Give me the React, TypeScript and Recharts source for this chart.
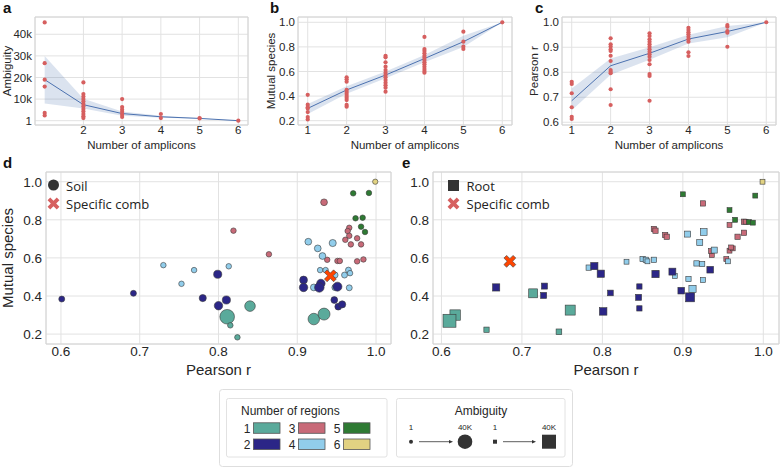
import React from "react";
import {
  ComposedChart,
  Scatter,
  Line,
  Area,
  XAxis,
  YAxis,
  ZAxis,
  CartesianGrid,
  ReferenceArea,
} from "recharts";

const FONT = "'Liberation Sans', Arial, sans-serif";
const LEGEND_FONT = "'Open Sans', sans-serif";
const TICK = { fontSize: 11.5, fill: "#262626", fontFamily: FONT };
const BIG_TICK = { fontSize: 13.5, fill: "#262626", fontFamily: FONT };
const GRID = "#e2e2e2";
const FRAME = "#d4d4d4";
const DOT = "#d65f5f";
const MEAN = "#4c72b0";

const REGION_COLORS = ["#5aaa9b", "#2b2687", "#c86a78", "#91cdeb", "#2e7a33", "#e1d282"];

const amplicons = [1, 2, 3, 4, 5, 6];

// a: ambiguity vs number of amplicons
const ambiguityPoints = [
  [45500, 26600, 19000, 15800, 3600, 2400],
  [17700, 12300, 11200, 10000, 8900, 7700, 6600, 5400, 4300, 3100, 2000, 1200],
  [10000, 6300, 5100, 4000, 2800, 1700],
  [3100, 1200],
  [1200, 1000],
  [1],
];
const ambiguityMean = [19000, 7400, 3300, 1800, 1050, 1];
const ambiguityLow = [7900, 5600, 2300, 1300, 950, 1];
const ambiguityHigh = [30000, 10200, 4300, 2300, 1150, 1];
const ambiguityTicks = [1, 10000, 20000, 30000, 40000];

// b: mutual species vs number of amplicons
const mutualPoints = [
  [0.41, 0.33, 0.31, 0.3, 0.27, 0.23, 0.21],
  [0.553, 0.537, 0.517, 0.45, 0.433, 0.417, 0.4, 0.385, 0.368, 0.328, 0.314],
  [0.728, 0.715, 0.675, 0.639, 0.612, 0.59, 0.571, 0.553, 0.531, 0.509, 0.488, 0.468, 0.436],
  [0.881, 0.783, 0.767, 0.748, 0.728, 0.712, 0.693, 0.675, 0.659, 0.639, 0.62, 0.604, 0.59],
  [0.924, 0.842, 0.802, 0.783],
  [1.0],
];
const mutualMean = [0.3, 0.45, 0.571, 0.705, 0.842, 1.0];
const mutualLow = [0.255, 0.42, 0.545, 0.675, 0.8, 1.0];
const mutualHigh = [0.335, 0.48, 0.6, 0.735, 0.89, 1.0];

// c: pearson r vs number of amplicons
const pearsonPoints = [
  [0.762, 0.753, 0.716, 0.66, 0.622, 0.613],
  [0.936, 0.912, 0.903, 0.892, 0.885, 0.866, 0.845, 0.809, 0.802, 0.796, 0.732, 0.669],
  [0.956, 0.945, 0.932, 0.922, 0.912, 0.902, 0.892, 0.882, 0.872, 0.862, 0.849, 0.832, 0.793, 0.785, 0.686],
  [0.978, 0.969, 0.96, 0.952, 0.942, 0.932, 0.922, 0.88, 0.865],
  [0.989, 0.982, 0.965, 0.958, 0.902],
  [1.0],
];
const pearsonMean = [0.686, 0.826, 0.876, 0.933, 0.963, 1.0];
const pearsonLow = [0.648, 0.79, 0.85, 0.915, 0.94, 1.0];
const pearsonHigh = [0.735, 0.855, 0.9, 0.95, 0.985, 1.0];

// d: soil, [pearson r, mutual species, ambiguity (k)] by number of regions
type Pt = [number, number, number];
const soil1: Pt[] = [[0.811, 0.291, 37], [0.815, 0.246, 1], [0.824, 0.183, 1], [0.84, 0.347, 17], [0.921, 0.279, 21], [0.934, 0.305, 23]];
const soil2: Pt[] = [[0.601, 0.384, 2], [0.692, 0.414, 2], [0.78, 0.389, 5], [0.799, 0.514, 8], [0.8, 0.349, 9], [0.81, 0.379, 8], [0.908, 0.484, 7], [0.908, 0.445, 9], [0.935, 0.31, 3], [0.93, 0.466, 9], [0.928, 0.445, 13], [0.951, 0.449, 11], [0.947, 0.379, 4], [0.952, 0.344, 4], [0.957, 0.356, 5]];
const soil3: Pt[] = [[0.819, 0.743, 1], [0.864, 0.619, 1], [0.934, 0.892, 4], [0.966, 0.758, 1], [0.964, 0.741, 1], [0.966, 0.716, 1], [0.961, 0.695, 1], [0.976, 0.703, 1], [0.968, 0.671, 1], [0.981, 0.671, 1], [0.938, 0.59, 1], [0.951, 0.584, 1], [0.954, 0.584, 1], [0.976, 0.582, 1], [0.984, 0.592, 1]];
const soil4: Pt[] = [[0.73, 0.562, 1], [0.753, 0.464, 1], [0.769, 0.536, 1], [0.813, 0.556, 1], [0.914, 0.685, 4], [0.926, 0.65, 4], [0.945, 0.678, 5], [0.932, 0.61, 4], [0.929, 0.536, 1], [0.936, 0.536, 1], [0.948, 0.51, 2], [0.96, 0.51, 2], [0.965, 0.536, 2], [0.967, 0.52, 1], [0.966, 0.443, 2], [0.921, 0.445, 4], [0.948, 0.445, 3]];
const soil5: Pt[] = [[0.971, 0.939, 1], [0.991, 0.941, 1], [0.974, 0.808, 1], [0.983, 0.811, 1], [0.981, 0.764, 1], [0.986, 0.736, 1]];
const soil6: Pt[] = [[0.999, 1.0, 0.5]];
const soilComb = [0.942, 0.506];

// e: root
const root1: Pt[] = [[0.617, 0.3, 22], [0.61, 0.27, 37], [0.656, 0.223, 2], [0.714, 0.414, 15], [0.746, 0.212, 3], [0.76, 0.326, 20]];
const root2: Pt[] = [[0.668, 0.445, 8], [0.728, 0.452, 4], [0.727, 0.403, 4], [0.79, 0.557, 8], [0.798, 0.517, 8], [0.801, 0.319, 9], [0.81, 0.416, 3], [0.845, 0.393, 4], [0.846, 0.45, 2], [0.846, 0.335, 2], [0.866, 0.515, 8], [0.887, 0.528, 7], [0.898, 0.428, 6], [0.909, 0.393, 15], [0.934, 0.538, 6]];
const root3: Pt[] = [[0.864, 0.752, 2], [0.866, 0.743, 2], [0.878, 0.72, 2], [0.88, 0.711, 2], [0.925, 0.886, 2], [0.958, 0.773, 1], [0.976, 0.79, 2], [0.978, 0.79, 1], [0.976, 0.732, 2], [0.968, 0.711, 2], [0.936, 0.615, 1], [0.935, 0.636, 1], [0.954, 0.594, 1], [0.958, 0.638, 1], [0.962, 0.65, 1], [0.96, 0.655, 1]];
const root4: Pt[] = [[0.783, 0.549, 2], [0.83, 0.58, 1], [0.85, 0.594, 2], [0.854, 0.59, 2], [0.856, 0.582, 1], [0.864, 0.59, 2], [0.867, 0.518, 2], [0.89, 0.505, 1], [0.907, 0.489, 2], [0.912, 0.437, 8], [0.906, 0.725, 4], [0.921, 0.68, 4], [0.926, 0.736, 6], [0.917, 0.571, 2], [0.924, 0.568, 2], [0.925, 0.484, 1], [0.939, 0.641, 4], [0.956, 0.582, 1]];
const root5: Pt[] = [[0.9, 0.934, 1], [0.99, 0.927, 1], [0.958, 0.851, 1], [0.965, 0.8, 1], [0.982, 0.788, 1], [0.987, 0.785, 1]];
const root6: Pt[] = [[0.999, 1.0, 1]];
const rootComb = [0.685, 0.582];

const scatterTicks = [0.6, 0.7, 0.8, 0.9, 1.0];
const mutualTicks = [0.2, 0.4, 0.6, 0.8, 1.0];
const pearsonTicks = [0.6, 0.7, 0.8, 0.9, 1.0];

const stripData = (pts: number[][]) => pts.flatMap((col, i) => col.map((y) => ({ x: amplicons[i], y })));
const meanData = (mean: number[], lo: number[], hi: number[]) =>
  amplicons.map((x, i) => ({ x, mean: mean[i], ci: [lo[i], hi[i]] }));
const toRows = (pts: Pt[]) => pts.map(([r, m, amb]) => ({ r, m, amb }));

const areaOf = (p: any) => (p.size != null ? p.size : Math.PI * Math.pow((p.width || 5) / 2, 2));

function Bubble(p: any) {
  const rad = Math.sqrt(areaOf(p) / Math.PI);
  return <circle cx={p.cx} cy={p.cy} r={rad} fill={p.color} stroke="#3a3a3a" strokeWidth={0.6} />;
}

function Box(p: any) {
  const s = Math.sqrt(areaOf(p));
  return <rect x={p.cx - s / 2} y={p.cy - s / 2} width={s} height={s} fill={p.color} stroke="#3a3a3a" strokeWidth={0.6} />;
}

function Cross({ cx, cy, color, stroke }: any) {
  const a = 6.5;
  const t = 1.9;
  const d = `M${-t},${-a}H${t}V${-t}H${a}V${t}H${t}V${a}H${-t}V${t}H${-a}V${-t}H${-t}Z`;
  return (
    <g transform={`translate(${cx},${cy}) rotate(45)`}>
      <path d={d} fill={color} stroke={stroke} strokeWidth={stroke ? 0.6 : 0} />
    </g>
  );
}

function AmpliconPanel({ left, yWidth, right, points, mean, lo, hi, yDomain, yTicks, xTicks, fmt }: any) {
  return (
    <div style={{ position: "absolute", left, top: 0 }}>
      <ComposedChart width={260} height={140} data={meanData(mean, lo, hi)} margin={{ top: 17, right, bottom: 0, left: 0 }}>
        <CartesianGrid stroke={GRID} />
        <XAxis type="number" dataKey="x" domain={[0.75, 6.25]} ticks={xTicks} interval={0} allowDataOverflow
          tickLine={false} axisLine={false} tickSize={0} tickMargin={1} height={15} tick={TICK} />
        <YAxis type="number" domain={yDomain} ticks={yTicks} interval={0} allowDataOverflow width={yWidth}
          tickLine={false} axisLine={false} tickSize={0} tickMargin={3} tick={TICK} tickFormatter={fmt} />
        <ReferenceArea x1={0.75} x2={6.25} y1={yDomain[0]} y2={yDomain[1]} fill="none" stroke={FRAME} ifOverflow="visible" />
        <Area type="linear" dataKey="ci" fill={MEAN} fillOpacity={0.2} stroke="none" isAnimationActive={false} />
        <Line type="linear" dataKey="mean" stroke={MEAN} strokeWidth={1} dot={false} isAnimationActive={false} />
        <Scatter data={stripData(points)} dataKey="y" isAnimationActive={false}
          shape={(p: any) => <circle cx={p.cx} cy={p.cy} r={2.1} fill={DOT} />} />
      </ComposedChart>
    </div>
  );
}

function RegionPanel({ left, width, yWidth, right, xDomain, groups, comb, square }: any) {
  const yDomain = [0.148, 1.051];
  const order = [2, 3, 1, 0, 4, 5];
  return (
    <div style={{ position: "absolute", left, top: 150 }}>
      <ComposedChart width={width} height={215} margin={{ top: 22, right, bottom: 0, left: 0 }}>
        <CartesianGrid stroke={GRID} />
        <XAxis type="number" dataKey="r" domain={xDomain} ticks={scatterTicks} interval={0} allowDataOverflow
          tickLine={false} axisLine={false} tickSize={0} tickMargin={2} height={21} tick={BIG_TICK}
          tickFormatter={(v: number) => v.toFixed(1)} />
        <YAxis type="number" dataKey="m" domain={yDomain} ticks={mutualTicks} interval={0} allowDataOverflow width={yWidth}
          tickLine={false} axisLine={false} tickSize={0} tickMargin={4} tick={BIG_TICK}
          tickFormatter={(v: number) => v.toFixed(1)} />
        <ZAxis type="number" dataKey="amb" domain={[0, 40]} range={[20, 180]} />
        <ReferenceArea x1={xDomain[0]} x2={xDomain[1]} y1={yDomain[0]} y2={yDomain[1]} fill="none" stroke={FRAME} ifOverflow="visible" />
        {order.map((g) => (
          <Scatter key={g} data={toRows(groups[g])} isAnimationActive={false}
            shape={(p: any) => (square ? <Box {...p} color={REGION_COLORS[g]} /> : <Bubble {...p} color={REGION_COLORS[g]} />)} />
        ))}
        <Scatter data={[{ r: comb[0], m: comb[1] }]} isAnimationActive={false}
          shape={(p: any) => <Cross cx={p.cx} cy={p.cy} color="#ff4500" stroke="#444" />} />
      </ComposedChart>
    </div>
  );
}

function Swatch({ x, y, label, color }: any) {
  return (
    <g>
      <text x={x - 3} y={y + 10} textAnchor="end" fontSize={12}>{label}</text>
      <rect x={x} y={y} width={26.5} height={10.5} fill={color} stroke="#555" strokeWidth={0.8} />
    </g>
  );
}

function Arrow({ x1, x2, y }: any) {
  return (
    <g>
      <line x1={x1} y1={y} x2={x2 - 3} y2={y} stroke="#333" strokeWidth={0.8} />
      <path d={`M${x2},${y}L${x2 - 4},${y - 1.8}L${x2 - 4},${y + 1.8}Z`} fill="#333" />
    </g>
  );
}

export default function App() {
  return (
    <div style={{ position: "absolute", left: 0, top: 0, width: 780, height: 467, background: "#fff", fontFamily: FONT }}>
      <AmpliconPanel left={0} yWidth={35} right={12} points={ambiguityPoints} mean={ambiguityMean} lo={ambiguityLow} hi={ambiguityHigh}
        yDomain={[-2000, 48000]} yTicks={ambiguityTicks} xTicks={[2, 3, 4, 5, 6]}
        fmt={(v: number) => (v < 10 ? String(v) : `${v / 1000}k`)} />
      <AmpliconPanel left={260} yWidth={38} right={8} points={mutualPoints} mean={mutualMean} lo={mutualLow} hi={mutualHigh}
        yDomain={[0.165, 1.043]} yTicks={mutualTicks} xTicks={amplicons} fmt={(v: number) => v.toFixed(1)} />
      <AmpliconPanel left={520} yWidth={42} right={4} points={pearsonPoints} mean={pearsonMean} lo={pearsonLow} hi={pearsonHigh}
        yDomain={[0.589, 1.021]} yTicks={pearsonTicks} xTicks={amplicons} fmt={(v: number) => v.toFixed(1)} />

      <RegionPanel left={0} width={395} yWidth={46} right={4} xDomain={[0.581, 1.019]}
        groups={[soil1, soil2, soil3, soil4, soil5, soil6]} comb={soilComb} />
      <RegionPanel left={395} width={385} yWidth={38} right={1} xDomain={[0.5895, 1.0195]}
        groups={[root1, root2, root3, root4, root5, root6]} comb={rootComb} square />

      <svg width={780} height={467} style={{ position: "absolute", left: 0, top: 0, pointerEvents: "none" }}>
        <g fontFamily={FONT} fontWeight="bold" fontSize={15} fill="#111">
          <text x={3} y={12.5}>a</text>
          <text x={270} y={12.5}>b</text>
          <text x={535} y={12.5}>c</text>
          <text x={3} y={168}>d</text>
          <text x={402} y={168}>e</text>
        </g>

        <g fontFamily={FONT} fontSize={11.5} fill="#262626" textAnchor="middle">
          <text transform="translate(11,71) rotate(-90)">Ambiguity</text>
          <text transform="translate(274.5,71) rotate(-90)">Mutual species</text>
          <text transform="translate(538,71) rotate(-90)">Pearson r</text>
          <text x={141.5} y={148.5}>Number of amplicons</text>
          <text x={405} y={148.5}>Number of amplicons</text>
          <text x={669} y={148.5}>Number of amplicons</text>
        </g>
        <g fontFamily={FONT} fontSize={15} fill="#262626" textAnchor="middle">
          <text transform="translate(13,258) rotate(-90)">Mutual species</text>
          <text x={218.5} y={375}>Pearson r</text>
          <text x={606} y={375}>Pearson r</text>
        </g>

        <g fontFamily={LEGEND_FONT} fontSize={13} fill="#222">
          <circle cx={53.5} cy={185} r={5.5} fill="#333" />
          <text x={66} y={190.5}>Soil</text>
          <Cross cx={53.5} cy={203.5} color={DOT} />
          <text x={66} y={209}>Specific comb</text>
          <rect x={448} y={180} width={11} height={11} fill="#333" />
          <text x={466.5} y={190.5}>Root</text>
          <Cross cx={453.5} cy={203.5} color={DOT} />
          <text x={466.5} y={209}>Specific comb</text>
        </g>

        <g fontFamily={FONT} fill="#262626">
          <rect x={219.5} y={389.5} width={353} height={77} rx={3} fill="#fff" stroke="#dedede" />
          <rect x={226.5} y={398.5} width={160.5} height={58.5} rx={2} fill="#fff" stroke="#e2e2e2" />
          <rect x={396.5} y={398.5} width={168.5} height={58.5} rx={2} fill="#fff" stroke="#e2e2e2" />
          <text x={241} y={414.5} fontSize={12}>Number of regions</text>
          <Swatch x={253.5} y={422.8} label="1" color={REGION_COLORS[0]} />
          <Swatch x={253.5} y={439} label="2" color={REGION_COLORS[1]} />
          <Swatch x={298.5} y={422.8} label="3" color={REGION_COLORS[2]} />
          <Swatch x={298.5} y={439} label="4" color={REGION_COLORS[3]} />
          <Swatch x={343.5} y={422.8} label="5" color={REGION_COLORS[4]} />
          <Swatch x={343.5} y={439} label="6" color={REGION_COLORS[5]} />
          <text x={481} y={414.5} fontSize={12} textAnchor="middle">Ambiguity</text>
          <g fontSize={8} textAnchor="middle">
            <text x={411} y={430}>1</text>
            <text x={465} y={430}>40K</text>
            <text x={495} y={430}>1</text>
            <text x={549} y={430}>40K</text>
          </g>
          <circle cx={411} cy={441.7} r={2} fill="#333" />
          <Arrow x1={419} x2={453} y={441.7} />
          <circle cx={465} cy={441.7} r={7.3} fill="#333" />
          <rect x={493} y={439.7} width={4} height={4} fill="#333" />
          <Arrow x1={503} x2={536} y={441.7} />
          <rect x={542} y={434.7} width={14} height={14} fill="#333" />
        </g>
      </svg>
    </div>
  );
}
